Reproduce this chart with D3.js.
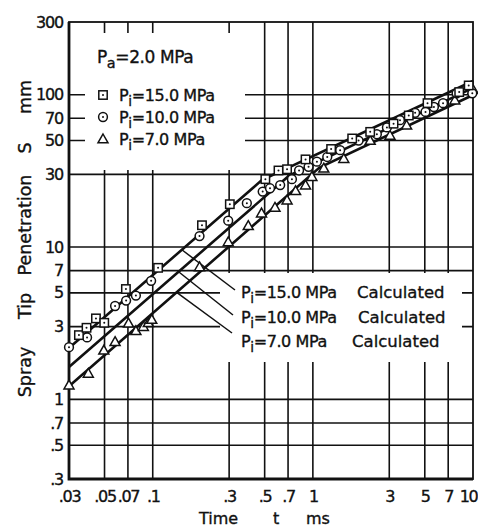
<!DOCTYPE html>
<html>
<head>
<meta charset="utf-8">
<script src="https://cdnjs.cloudflare.com/ajax/libs/d3/7.8.5/d3.min.js"></script>
<style>
  body { margin: 0; background: #fff; }
  svg text { font-family: "DejaVu Sans", "Noto Sans", sans-serif; fill: #111; stroke: #111; stroke-width: 0.35px; }
</style>
</head>
<body>
<svg id="chart" width="478" height="532"></svg>
<script>
// measured points, [t ms, S mm]
var p15 = [[0.0346, 2.64], [0.0386, 2.95], [0.0442, 3.4], [0.0498, 3.18], [0.068, 5.3],
  [0.108, 7.3], [0.203, 13.9], [0.303, 19.1], [0.505, 27.9], [0.61, 31.8], [0.69, 32.4],
  [0.90, 37.6], [1.3, 44], [1.76, 51.6], [2.28, 57], [3.19, 64.5], [3.97, 73],
  [5.2, 88], [8.2, 104], [9.4, 115]];
var p10 = [[0.03, 2.2], [0.0389, 2.55], [0.0582, 4.1], [0.0682, 4.45], [0.0785, 4.8],
  [0.0977, 6.0], [0.196, 11.8], [0.296, 14.9], [0.387, 19.4], [0.486, 23.1], [0.54, 24.3],
  [0.625, 25.5], [0.74, 27.9], [0.82, 31.8], [0.94, 33.6], [1.06, 36.3], [1.23, 39],
  [1.48, 43.2], [1.93, 50], [2.51, 55], [2.9, 61], [3.5, 68], [4.35, 76], [5.05, 77],
  [5.7, 83], [6.5, 88], [7.9, 102], [9.9, 102]];
var p7 = [[0.03, 1.24], [0.0396, 1.48], [0.0495, 2.1], [0.0582, 2.39], [0.0706, 3.16],
  [0.0785, 2.82], [0.0874, 3.0], [0.0939, 3.18], [0.0986, 3.34], [0.196, 7.4],
  [0.296, 10.8], [0.395, 13.8], [0.478, 16.7], [0.58, 18.2], [0.69, 20.3], [0.78, 23.4],
  [0.90, 25.5], [0.986, 29], [1.17, 32.9], [1.56, 38], [2.28, 50], [3.03, 54],
  [3.85, 63], [7.7, 92], [10, 108]];

// calculated curves (start, break, end)
var calc15 = [[0.03, 2.17], [0.48, 27.5], [10, 123]];
var calc10 = [[0.03, 1.63], [0.71, 29.4], [10, 110.8]];
var calc7 = [[0.03, 1.22], [1.10, 33.2], [10, 99.5]];

var xTicks = [0.03, 0.05, 0.07, 0.1, 0.3, 0.5, 0.7, 1, 3, 5, 7, 10];
var xTickLabels = ['.03', '.05', '.07', '.1', '.3', '.5', '.7', '1', '3', '5', '7', '10'];
var yTicks = [0.3, 0.5, 0.7, 1, 3, 5, 7, 10, 30, 50, 70, 100, 300];
var yTickLabels = ['.3', '.5', '.7', '1', '3', '5', '7', '10', '30', '50', '70', '100', '300'];
var xGrid = [0.05, 0.07, 0.1, 0.3, 0.5, 0.7, 1, 3, 5, 7];
var yGrid = [0.5, 0.7, 1, 3, 5, 7, 10, 30, 50, 70, 100];

var margin = {top: 22, right: 5, bottom: 53, left: 69},
    W = 478, H = 532;

var svg = d3.select('#chart');

var x = d3.scaleLog().domain([0.03, 10]).range([margin.left, W - margin.right]);
var y = d3.scaleLog().domain([0.3, 300]).range([H - margin.bottom, margin.top]);

// grid
var grid = svg.append('g').attr('class', 'grid')
  .attr('stroke', '#111').attr('stroke-width', 1.6);

grid.selectAll('line.v').data(xGrid).enter().append('line')
  .attr('class', 'v')
  .attr('x1', function(d) { return x(d); })
  .attr('x2', function(d) { return x(d); })
  .attr('y1', y(300)).attr('y2', y(0.3));

grid.selectAll('line.h').data(yGrid).enter().append('line')
  .attr('class', 'h')
  .attr('x1', x(0.03)).attr('x2', x(10))
  .attr('y1', function(d) { return y(d); })
  .attr('y2', function(d) { return y(d); });

// blank legend areas (grid is interrupted there)
svg.append('rect').attr('x', 85).attr('y', 33).attr('width', 160).attr('height', 137).attr('fill', '#fff');
svg.append('rect').attr('x', 220).attr('y', 273).attr('width', 242).attr('height', 89).attr('fill', '#fff');

// frame
svg.append('rect')
  .attr('x', x(0.03)).attr('y', y(300))
  .attr('width', x(10) - x(0.03)).attr('height', y(0.3) - y(300))
  .attr('fill', 'none').attr('stroke', '#111').attr('stroke-width', 1.8);
svg.append('path')
  .attr('d', 'M' + x(0.03) + ',' + y(300) + 'V' + y(0.3) + 'H' + x(10))
  .attr('fill', 'none').attr('stroke', '#111').attr('stroke-width', 2.8);

// axes labels
var xAxis = d3.axisBottom(x).tickValues(xTicks)
  .tickFormat(function(d, i) { return xTickLabels[i]; }).tickSize(0).tickPadding(12);
var gx = svg.append('g').attr('transform', 'translate(0,' + y(0.3) + ')').call(xAxis);
gx.select('.domain').remove();
gx.selectAll('text').attr('font-size', 16).attr('fill', '#111')
  .attr('font-family', '"DejaVu Sans", sans-serif').attr('letter-spacing', -1.3)
  .attr('dx', function(d, i) { return i === xTicks.length - 1 ? -5 : 0; });

var yAxis = d3.axisLeft(y).tickValues(yTicks)
  .tickFormat(function(d, i) { return yTickLabels[i]; }).tickSize(0).tickPadding(6);
var gy = svg.append('g').attr('transform', 'translate(' + x(0.03) + ',0)').call(yAxis);
gy.select('.domain').remove();
gy.selectAll('text').attr('font-size', 16).attr('fill', '#111')
  .attr('font-family', '"DejaVu Sans", sans-serif').attr('letter-spacing', -1.2);

// calculated lines
var line = d3.line().x(function(d) { return x(d[0]); }).y(function(d) { return y(d[1]); });
[calc15, calc10, calc7].forEach(function(c) {
  svg.append('path').datum(c).attr('d', line)
    .attr('fill', 'none').attr('stroke', '#111').attr('stroke-width', 2.6);
});

// value on a calc curve (piecewise power law)
function calcAt(c, t) {
  var seg = t <= c[1][0] ? [c[0], c[1]] : [c[1], c[2]];
  var k = Math.log(t / seg[0][0]) / Math.log(seg[1][0] / seg[0][0]);
  return seg[0][1] * Math.pow(seg[1][1] / seg[0][1], k);
}

// leaders to calculated labels
var leaders = [
  {c: calc15, t: 0.152, ex: 235, ey: 290},
  {c: calc10, t: 0.145, ex: 233, ey: 315},
  {c: calc7, t: 0.141, ex: 232, ey: 333}
];
svg.selectAll('line.leader').data(leaders).enter().append('line')
  .attr('class', 'leader')
  .attr('x1', function(d) { return x(d.t); })
  .attr('y1', function(d) { return y(calcAt(d.c, d.t)); })
  .attr('x2', function(d) { return d.ex; })
  .attr('y2', function(d) { return d.ey; })
  .attr('stroke', '#111').attr('stroke-width', 1.5);

// markers
function drawMarker(g, type, cx, cy) {
  if (type === 'sq') {
    g.append('rect').attr('x', cx - 4.2).attr('y', cy - 4.2).attr('width', 8.4).attr('height', 8.4)
      .attr('fill', '#fff').attr('stroke', '#111').attr('stroke-width', 1.5);
    g.append('circle').attr('cx', cx).attr('cy', cy).attr('r', 1).attr('fill', '#111');
  } else if (type === 'ci') {
    g.append('circle').attr('cx', cx).attr('cy', cy).attr('r', 4.4)
      .attr('fill', '#fff').attr('stroke', '#111').attr('stroke-width', 1.5);
    g.append('circle').attr('cx', cx).attr('cy', cy).attr('r', 1).attr('fill', '#111');
  } else {
    g.append('path')
      .attr('d', 'M' + cx + ',' + (cy - 5) + 'L' + (cx + 5) + ',' + (cy + 3.8) + 'L' + (cx - 5) + ',' + (cy + 3.8) + 'Z')
      .attr('fill', '#fff').attr('stroke', '#111').attr('stroke-width', 1.5);
  }
}

var marks = svg.append('g').attr('class', 'marks');
[[p7, 'tr'], [p10, 'ci'], [p15, 'sq']].forEach(function(s) {
  s[0].forEach(function(d) { drawMarker(marks, s[1], x(d[0]), y(d[1])); });
});

// text helper: P with subscript
function pLabel(xp, yp, sub, rest, size) {
  var t = svg.append('text').attr('x', xp).attr('y', yp).attr('font-size', size).attr('letter-spacing', -0.4);
  t.append('tspan').text('P');
  t.append('tspan').attr('dy', 5).attr('font-size', size * 0.85).text(sub);
  t.append('tspan').attr('dy', -5).text(rest);
  return t;
}

pLabel(97, 63, 'a', '=2.0 MPa', 17);

var legendRows = [
  {type: 'sq', label: '=15.0 MPa', yy: 95},
  {type: 'ci', label: '=10.0 MPa', yy: 117},
  {type: 'tr', label: '=7.0 MPa', yy: 139}
];
legendRows.forEach(function(r) {
  drawMarker(svg, r.type, 103, r.yy);
  pLabel(119, r.yy + 6, 'i', r.label, 16);
});

var calcRows = [
  {label: '=15.0 MPa', yy: 293, cx: 357},
  {label: '=10.0 MPa', yy: 318, cx: 358},
  {label: '=7.0 MPa', yy: 342, cx: 352}
];
calcRows.forEach(function(r) {
  pLabel(241, r.yy + 5, 'i', r.label, 16);
  svg.append('text').attr('x', r.cx).attr('y', r.yy + 5).attr('font-size', 16.5)
    .attr('letter-spacing', 0).text('Calculated');
});

// axis titles
svg.append('text').attr('x', 199).attr('y', 524).attr('font-size', 16).text('Time');
svg.append('text').attr('x', 273).attr('y', 524).attr('font-size', 16).text('t');
svg.append('text').attr('x', 306).attr('y', 524).attr('font-size', 16).text('ms');

var yTitle = [
  {s: 'Spray', c: 372},
  {s: 'Tip', c: 306},
  {s: 'Penetration', c: 225},
  {s: 'S', c: 148},
  {s: 'mm', c: 97}
];
svg.selectAll('text.ytitle').data(yTitle).enter().append('text')
  .attr('class', 'ytitle')
  .attr('transform', function(d) { return 'translate(31,' + d.c + ') rotate(-90)'; })
  .attr('text-anchor', 'middle').attr('font-size', 17.5)
  .text(function(d) { return d.s; });
</script>
</body>
</html>
